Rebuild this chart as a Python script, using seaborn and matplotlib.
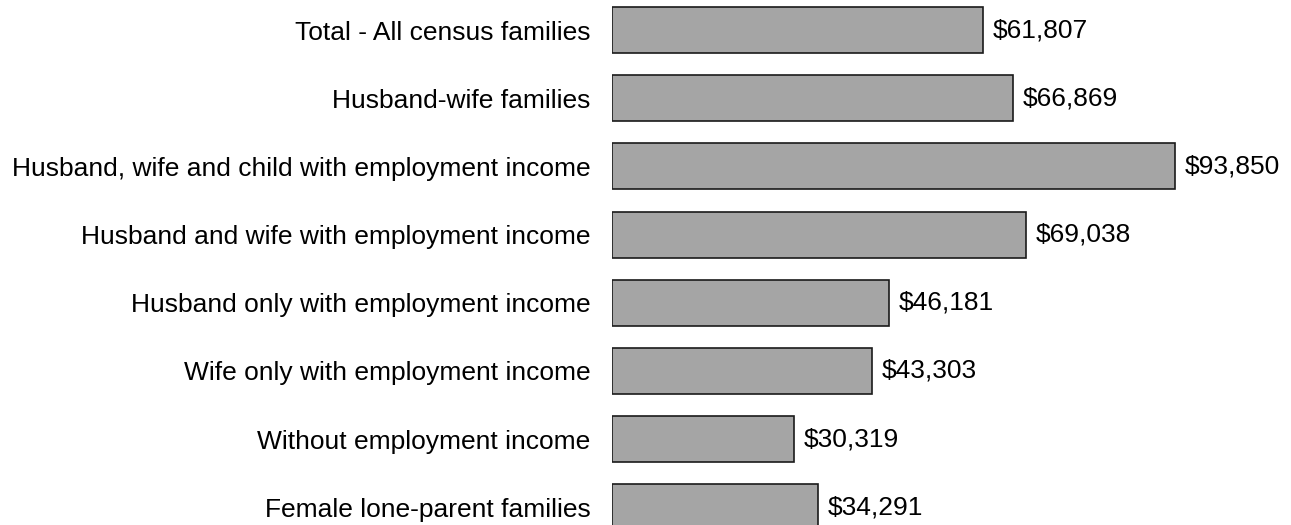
import matplotlib
matplotlib.use("Agg")
import matplotlib.pyplot as plt
import seaborn as sns
import pandas as pd

categories = [
    "Total - All census families",
    "Husband-wife families",
    "Husband, wife and child with employment income",
    "Husband and wife with employment income",
    "Husband only with employment income",
    "Wife only with employment income",
    "Without employment income",
    "Female lone-parent families",
]
values = [61807, 66869, 93850, 69038, 46181, 43303, 30319, 34291]

sns.set_theme(style="white")
plt.rcParams["font.family"] = ["Liberation Sans", "DejaVu Sans"]

df = pd.DataFrame({"category": categories, "value": values})

fig = plt.figure(figsize=(12.91, 5.25), dpi=100)
ax = fig.add_axes([612 / 1291, 0, 1 - 612 / 1291, 1])
sns.barplot(data=df, y="category", x="value", orient="h", color="#a5a5a5",
            edgecolor="#1a1a1a", linewidth=1.2, width=0.675, saturation=1, ax=ax)

ax.set_xlim(0, 113100)
ax.set_ylim(7.26, -0.44)
for s in ax.spines.values():
    s.set_visible(False)
ax.set_xticks([])
ax.set_xlabel("")
ax.set_ylabel("")
ax.tick_params(axis="y", length=0, pad=15.5, labelsize=19, labelcolor="#000000")

for i, v in enumerate(values):
    ax.annotate(f"${v:,}", xy=(v, i), xytext=(7, 0), textcoords="offset points",
                va="center", ha="left", fontsize=19, color="#000000")

fig.savefig("out.png", dpi=100)
